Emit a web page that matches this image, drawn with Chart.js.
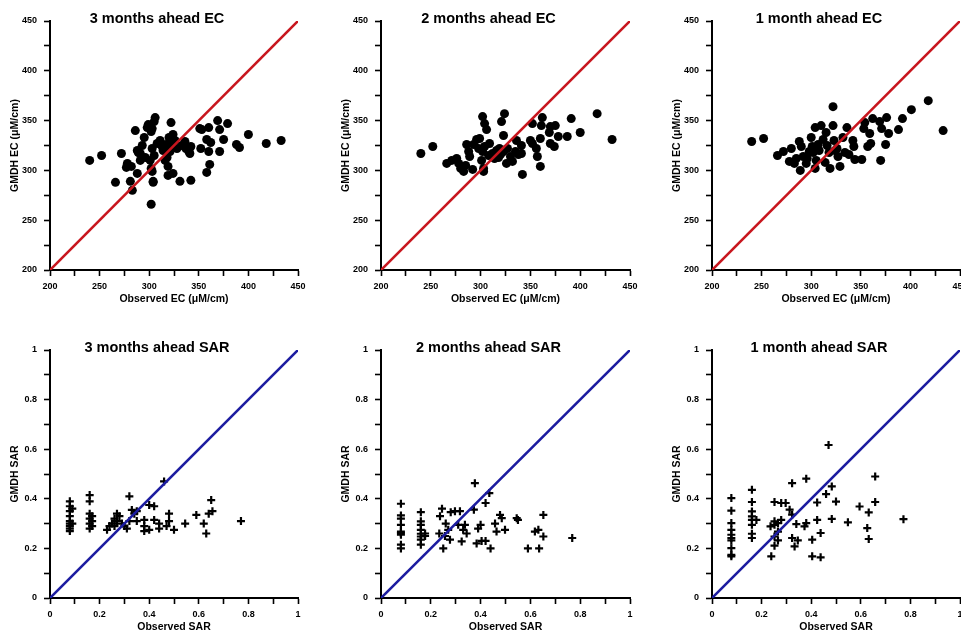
<!DOCTYPE html>
<html><head><meta charset="utf-8">
<script src="https://cdn.jsdelivr.net/npm/chart.js@4/dist/chart.umd.min.js"></script>
<style>
html,body{margin:0;padding:0;width:961px;height:632px;overflow:hidden;background:#fff}
canvas{position:absolute}
</style></head><body>
<script>
// ---------- DATA ----------
const ecTickLabels = ['200','250','300','350','400','450'];
const sarTickLabels = ['0','0.2','0.4','0.6','0.8','1'];
const ecRange = [200, 450];
const sarRange = [0, 1];

const ec3Observed = [240,252,266,272,278,277,281,283,282,286,288,288,291,291,293,295,298,299,302,303,306,305,301,302,303,304,304,302,303,305,308,311,313,316,318,319,319,321,323,322,323,324,324,328,331,336,337,340,342,341,342,351,353,352,358,358,360,360,361,362,369,371,371,375,379,388,391,400,418,433,314,317,320,326,333,296,289];
const ec3Predicted = [310,315,288,317,307,303,289,280,304,340,297,320,317,310,325,333,343,346,339,342,353,349,310,302,299,289,288,266,322,315,327,330,324,310,313,304,295,319,324,348,330,336,297,322,289,329,322,319,324,317,290,342,341,322,331,298,343,319,306,328,350,341,319,331,347,326,323,336,327,330,320,326,333,330,325,313,318];

const ec2Observed = [240,252,266,271,276,278,280,283,286,288,289,292,293,296,299,301,303,303,302,304,306,302,304,309,312,314,318,319,321,323,324,323,326,327,330,332,335,336,338,341,341,342,350,352,352,356,357,360,360,361,362,369,370,370,374,375,378,387,391,400,417,432,316,320,308,298,285];
const ec2Predicted = [317,324,307,310,312,307,302,299,326,319,314,301,326,331,332,310,302,299,354,347,341,319,324,327,317,312,313,322,349,335,357,319,307,322,314,309,319,330,316,317,325,296,330,327,347,322,314,332,304,345,353,338,344,327,324,345,334,334,352,338,357,331,320,316,315,322,305];

const ec1Observed = [240,252,266,272,280,278,283,288,289,290,292,295,298,300,301,302,304,304,305,307,310,312,314,315,318,319,322,322,323,324,327,329,332,334,336,338,342,343,344,351,353,354,357,359,360,362,369,371,370,375,376,378,388,392,401,418,433,296,308,316,326,285];
const ec1Predicted = [329,332,315,319,322,309,307,329,300,324,314,307,319,333,324,318,343,302,310,326,345,331,308,338,318,302,345,364,330,320,314,304,333,318,343,316,330,324,311,311,342,348,324,337,327,352,349,342,310,326,353,337,341,352,361,370,340,312,320,325,322,312];

const sar3Observed = [0.08,0.08,0.08,0.08,0.08,0.08,0.08,0.08,0.08,0.09,0.09,0.16,0.16,0.16,0.16,0.16,0.16,0.17,0.17,0.17,0.23,0.24,0.25,0.26,0.27,0.28,0.29,0.30,0.32,0.32,0.33,0.34,0.35,0.38,0.38,0.38,0.40,0.40,0.42,0.42,0.44,0.46,0.47,0.48,0.48,0.50,0.545,0.59,0.62,0.63,0.64,0.65,0.655,0.77,0.26,0.27,0.31,0.35,0.44];
const sar3Predicted = [0.39,0.37,0.35,0.33,0.31,0.30,0.29,0.28,0.27,0.36,0.30,0.415,0.39,0.34,0.32,0.30,0.28,0.33,0.29,0.31,0.275,0.29,0.30,0.32,0.34,0.33,0.30,0.29,0.31,0.41,0.355,0.34,0.31,0.315,0.29,0.27,0.275,0.375,0.37,0.315,0.28,0.47,0.29,0.31,0.34,0.275,0.30,0.335,0.30,0.26,0.34,0.395,0.35,0.31,0.29,0.31,0.28,0.35,0.30];

const sar2Observed = [0.08,0.08,0.08,0.08,0.08,0.08,0.08,0.08,0.08,0.16,0.16,0.16,0.16,0.16,0.16,0.16,0.16,0.177,0.177,0.245,0.237,0.234,0.25,0.257,0.26,0.27,0.277,0.28,0.297,0.317,0.31,0.324,0.33,0.337,0.344,0.373,0.377,0.384,0.39,0.40,0.404,0.42,0.42,0.435,0.44,0.458,0.464,0.478,0.485,0.498,0.545,0.55,0.59,0.618,0.632,0.635,0.652,0.652,0.768];
const sar2Predicted = [0.38,0.333,0.32,0.295,0.268,0.262,0.255,0.215,0.20,0.346,0.309,0.295,0.275,0.259,0.248,0.235,0.215,0.26,0.25,0.36,0.33,0.26,0.20,0.25,0.30,0.275,0.235,0.346,0.35,0.35,0.295,0.228,0.275,0.295,0.26,0.356,0.463,0.22,0.28,0.295,0.23,0.23,0.383,0.423,0.20,0.30,0.268,0.335,0.322,0.275,0.322,0.315,0.20,0.268,0.275,0.20,0.248,0.335,0.242];

const sar1Observed = [0.078,0.078,0.078,0.078,0.078,0.078,0.078,0.078,0.078,0.078,0.161,0.161,0.161,0.161,0.161,0.161,0.161,0.161,0.179,0.239,0.236,0.252,0.252,0.252,0.252,0.252,0.266,0.266,0.266,0.279,0.279,0.297,0.313,0.323,0.323,0.323,0.333,0.34,0.346,0.373,0.38,0.38,0.404,0.404,0.424,0.424,0.438,0.438,0.46,0.47,0.483,0.483,0.50,0.548,0.595,0.626,0.632,0.632,0.658,0.658,0.772];
const sar1Predicted = [0.403,0.352,0.302,0.275,0.255,0.242,0.232,0.201,0.174,0.168,0.436,0.387,0.349,0.329,0.315,0.295,0.259,0.242,0.315,0.168,0.289,0.387,0.309,0.295,0.248,0.211,0.302,0.268,0.232,0.383,0.315,0.383,0.356,0.463,0.336,0.242,0.208,0.298,0.232,0.289,0.481,0.302,0.235,0.168,0.385,0.315,0.262,0.164,0.419,0.617,0.45,0.319,0.389,0.305,0.369,0.282,0.345,0.238,0.49,0.387,0.318];

// ---------- DRAWING ----------
Chart.defaults.font.family = '"Liberation Sans", Arial, sans-serif';
Chart.defaults.color = '#000';

const titlePlugin = {
  id: 'panelTitle',
  afterDraw(chart, args, opts) {
    const {ctx, chartArea} = chart;
    ctx.save();
    ctx.font = 'bold 14.5px "Liberation Sans", Arial, sans-serif';
    ctx.fillStyle = '#000';
    ctx.textAlign = 'center';
    ctx.textBaseline = 'middle';
    ctx.fillText(opts.text, (chartArea.left + chartArea.right) / 2 - 17, chartArea.top - 2);
    ctx.restore();
  }
};

function makePanel(p) {
  const cv = document.createElement('canvas');
  cv.width = p.width; cv.height = p.height;
  cv.style.left = p.left + 'px'; cv.style.top = p.top + 'px';
  cv.style.width = p.width + 'px'; cv.style.height = p.height + 'px';
  document.body.appendChild(cv);
  const labelFor = v => {
    const hit = p.tickLabels.find(t => Math.abs(parseFloat(t) - v) < 1e-6);
    return hit === undefined ? '' : hit;
  };
  const axisCommon = (title, isY) => ({
    type: 'linear',
    min: p.range[0], max: p.range[1],
    ticks: {
      stepSize: p.step, autoSkip: false, maxRotation: 0,
      font: {size: 9, weight: 'bold'}, color: '#000',
      padding: isY ? 7 : 5,
      callback: v => labelFor(v)
    },
    grid: {display: true, drawOnChartArea: false, drawTicks: true, tickLength: 6, tickWidth: 1.6, tickColor: '#000', color: '#000'},
    border: {display: true, color: '#000', width: 2},
    title: {display: true, text: title, color: '#000', font: {size: 10.5, weight: 'bold', lineHeight: 1.2},
            padding: isY ? {top: 9, bottom: 0} : {top: 0, bottom: 7}},
    afterFit: s => { if (isY) s.width = 50; else s.height = 42; }
  });
  const pts = p.obs.map((x, i) => ({x: x, y: p.pred[i]}));
  new Chart(cv, {
    type: 'scatter',
    data: {
      datasets: [
        {type: 'line', data: [{x: p.range[0], y: p.range[0]}, {x: p.range[1], y: p.range[1]}],
         borderColor: p.lineColor, borderWidth: 2.6, pointRadius: 0, fill: false, tension: 0},
        {data: pts, pointStyle: p.marker, pointRadius: p.marker === 'circle' ? 4.5 : 4,
         pointBackgroundColor: '#000', pointBorderColor: '#000',
         pointBorderWidth: p.marker === 'circle' ? 0 : 2.2, showLine: false}
      ]
    },
    options: {
      responsive: false, animation: false, devicePixelRatio: 1,
      layout: {padding: {top: p.padTop, right: 22, left: 0, bottom: 0}},
      plugins: {legend: {display: false}, tooltip: {enabled: false}, panelTitle: {text: p.title}},
      scales: {
        x: Object.assign(axisCommon(p.xTitle, false), {position: 'bottom'}),
        y: Object.assign(axisCommon(p.yTitle, true), {position: 'left'})
      }
    },
    plugins: [titlePlugin]
  });
}

const cols = [{left: 0, width: 320}, {left: 331, width: 321}, {left: 662, width: 320}];
const topRow = {top: 0, height: 312, padTop: 21};
const botRow = {top: 320, height: 320, padTop: 30};

const ecPanels = [
  {title: '3 months ahead EC', obs: ec3Observed, pred: ec3Predicted},
  {title: '2 months ahead EC', obs: ec2Observed, pred: ec2Predicted},
  {title: '1 month ahead EC', obs: ec1Observed, pred: ec1Predicted}
];
const sarPanels = [
  {title: '3 months ahead SAR', obs: sar3Observed, pred: sar3Predicted},
  {title: '2 months ahead SAR', obs: sar2Observed, pred: sar2Predicted},
  {title: '1 month ahead SAR', obs: sar1Observed, pred: sar1Predicted}
];

ecPanels.forEach((e, i) => makePanel(Object.assign({}, cols[i], topRow, e, {
  xTitle: 'Observed EC (\u03BCM/cm)', yTitle: 'GMDH EC (\u03BCM/cm)',
  range: ecRange, step: 25, tickLabels: ecTickLabels,
  lineColor: '#c8161e', marker: 'circle'
})));
sarPanels.forEach((e, i) => makePanel(Object.assign({}, cols[i], botRow, e, {
  xTitle: 'Observed SAR', yTitle: 'GMDH SAR',
  range: sarRange, step: 0.1, tickLabels: sarTickLabels,
  lineColor: '#1c1ca0', marker: 'cross'
})));
</script>
</body></html>
